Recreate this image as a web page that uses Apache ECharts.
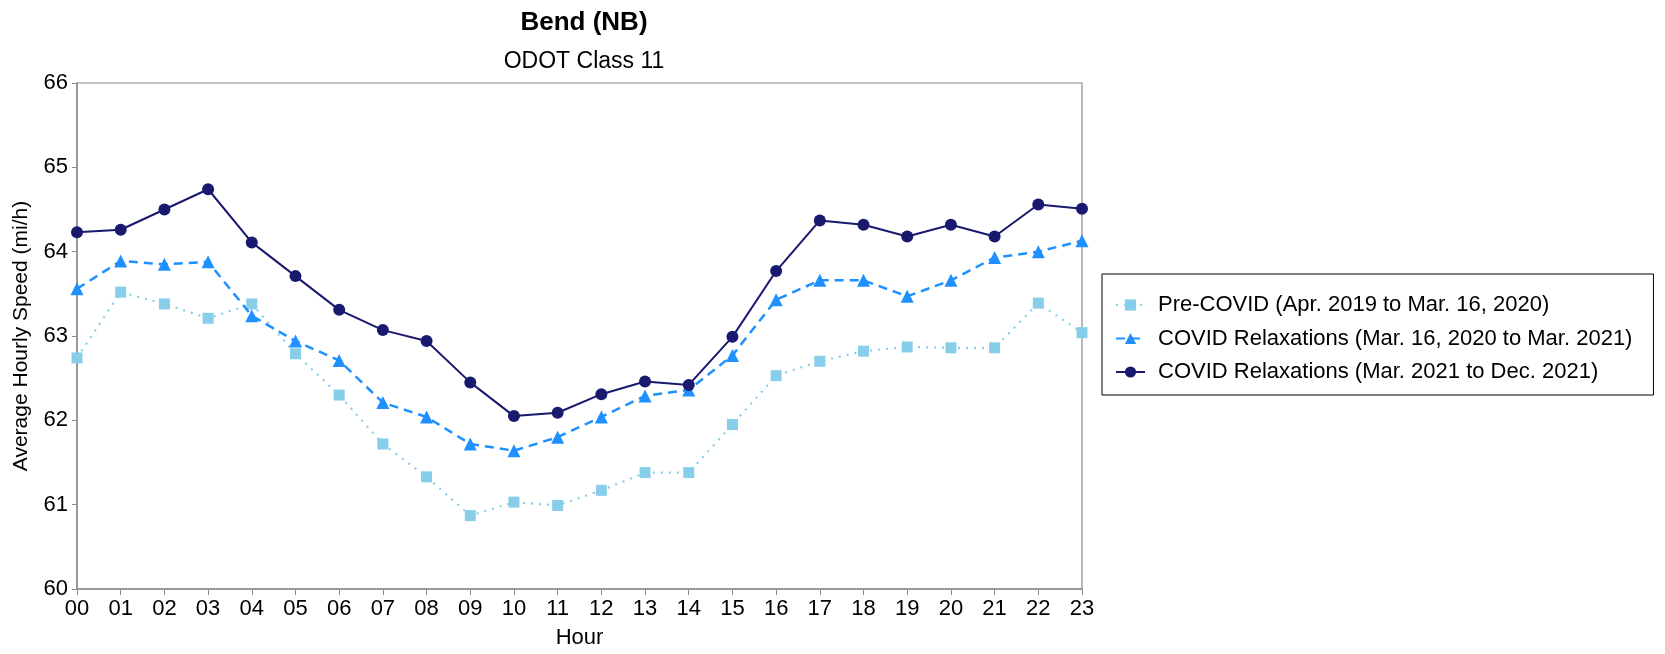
<!DOCTYPE html>
<html>
<head>
<meta charset="utf-8">
<title>Bend (NB)</title>
<script src="https://cdn.jsdelivr.net/npm/echarts@6/dist/echarts.min.js"></script>
<style>
  html, body { margin: 0; padding: 0; background: #fff; }
  #chart { width: 1665px; height: 654px; }
</style>
</head>
<body>
<div id="chart"></div>
<script>
// Hour-of-day categories
const hours = ['00','01','02','03','04','05','06','07','08','09','10','11',
               '12','13','14','15','16','17','18','19','20','21','22','23'];

// Average hourly speed (mi/h) per period
const preCovid = [62.74, 63.52, 63.38, 63.21, 63.38, 62.79, 62.30, 61.72, 61.33, 60.87, 61.03, 60.99,
                  61.17, 61.38, 61.38, 61.95, 62.53, 62.70, 62.82, 62.87, 62.86, 62.86, 63.39, 63.04];
const relax2020 = [63.56, 63.89, 63.85, 63.88, 63.24, 62.94, 62.71, 62.21, 62.04, 61.72, 61.64, 61.80,
                   62.04, 62.29, 62.36, 62.77, 63.43, 63.66, 63.66, 63.47, 63.66, 63.93, 64.00, 64.13];
const relax2021 = [64.23, 64.26, 64.50, 64.74, 64.11, 63.71, 63.31, 63.07, 62.94, 62.45, 62.05, 62.09,
                   62.31, 62.46, 62.42, 62.99, 63.77, 64.37, 64.32, 64.18, 64.32, 64.18, 64.56, 64.51];

const seriesNames = [
  'Pre-COVID (Apr. 2019 to Mar. 16, 2020)',
  'COVID Relaxations (Mar. 16, 2020 to Mar. 2021)',
  'COVID Relaxations (Mar. 2021 to Dec. 2021)'
];
const yTicks = { min: 60, max: 66, interval: 1 };

const FONT = "'Liberation Sans', Arial, Helvetica, sans-serif";
const AXIS_GRAY = '#8c8c8c';

const chart = echarts.init(document.getElementById('chart'), null, { renderer: 'canvas' });

chart.setOption({
  animation: false,
  backgroundColor: '#ffffff',
  textStyle: { fontFamily: FONT },
  title: [
    {
      text: 'Bend (NB)',
      left: 579, top: 5, textAlign: 'center',
      textStyle: { fontFamily: FONT, fontSize: 26, fontWeight: 'bold', color: '#000' }
    },
    {
      text: 'ODOT Class 11',
      left: 579, top: 45, textAlign: 'center',
      textStyle: { fontFamily: FONT, fontSize: 23, fontWeight: 'normal', color: '#000' }
    }
  ],
  grid: {
    left: 77, top: 83, right: 583, bottom: 65,
    show: true, borderColor: AXIS_GRAY, borderWidth: 1.2,
    containLabel: false,
    outerBoundsMode: 'none'
  },
  legend: {
    orient: 'vertical',
    left: 1102, top: 274,
    padding: [20, 21, 12, 13],
    borderColor: '#000', borderWidth: 1,
    itemWidth: 29, itemHeight: 14, itemGap: 11.5,
    textStyle: { fontFamily: FONT, fontSize: 22, color: '#000', lineHeight: 22, padding: [0, 0, 0, 8] },
    data: seriesNames
  },
  xAxis: {
    type: 'category',
    data: hours,
    boundaryGap: false,
    name: 'Hour',
    nameLocation: 'middle',
    nameGap: 38,
    nameMoveOverlap: false,
    nameTextStyle: { fontFamily: FONT, fontSize: 22, color: '#000' },
    axisLine: { lineStyle: { color: AXIS_GRAY, width: 1.5 } },
    axisTick: { show: true, alignWithLabel: true, length: 6, lineStyle: { color: AXIS_GRAY } },
    axisLabel: { fontFamily: FONT, fontSize: 22, color: '#000', margin: 9, interval: 0 },
    splitLine: { show: false }
  },
  yAxis: {
    type: 'value',
    min: yTicks.min, max: yTicks.max, interval: yTicks.interval,
    name: 'Average Hourly Speed (mi/h)',
    nameLocation: 'middle',
    nameGap: 45,
    nameMoveOverlap: false,
    nameTextStyle: { fontFamily: FONT, fontSize: 21, color: '#000' },
    axisLine: { show: true, lineStyle: { color: AXIS_GRAY, width: 1.5 } },
    axisTick: { show: true, length: 5, lineStyle: { color: AXIS_GRAY } },
    axisLabel: { fontFamily: FONT, fontSize: 22, color: '#000', margin: 9 },
    splitLine: { show: false }
  },
  series: [
    {
      name: seriesNames[0],
      type: 'line',
      data: preCovid,
      symbol: 'rect', symbolSize: 11,
      itemStyle: { color: '#87CEEB' },
      lineStyle: { color: '#87CEEB', width: 2.2, type: [2, 6] },
      z: 2
    },
    {
      name: seriesNames[1],
      type: 'line',
      data: relax2020,
      symbol: 'triangle', symbolSize: 13,
      itemStyle: { color: '#1E90FF' },
      lineStyle: { color: '#1E90FF', width: 2.5, type: [9, 6] },
      z: 3
    },
    {
      name: seriesNames[2],
      type: 'line',
      data: relax2021,
      symbol: 'circle', symbolSize: 12,
      itemStyle: { color: '#191970' },
      lineStyle: { color: '#191970', width: 2 },
      z: 4
    }
  ]
});
</script>
</body>
</html>
